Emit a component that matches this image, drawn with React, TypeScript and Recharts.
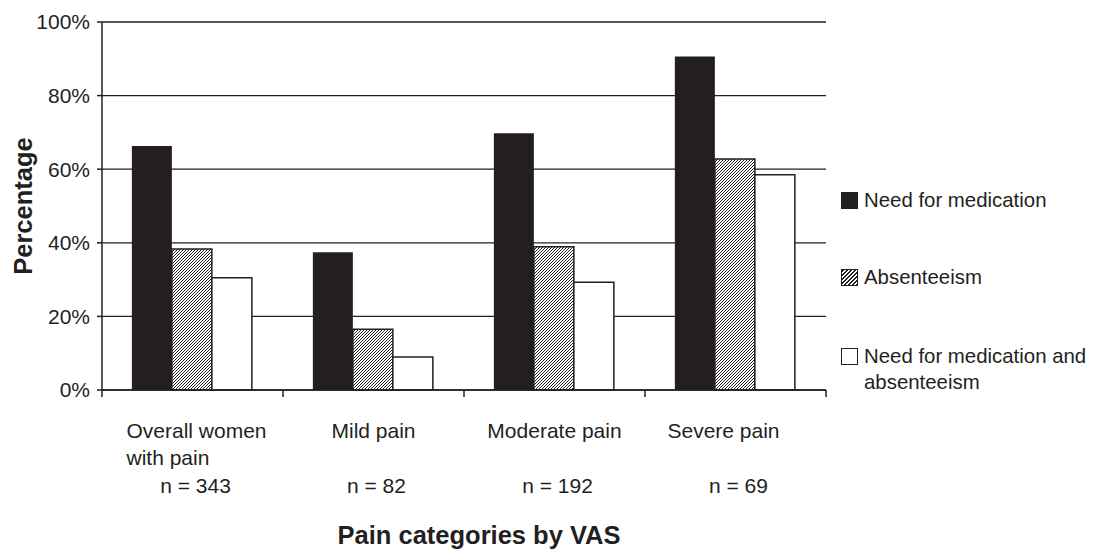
import React from 'react';
import { BarChart, Bar, XAxis, YAxis, CartesianGrid } from 'recharts';

const categories = ['Overall women with pain', 'Mild pain', 'Moderate pain', 'Severe pain'];
const categoryLines = [['Overall women', 'with pain'], ['Mild pain'], ['Moderate pain'], ['Severe pain']];
const nLabels = ['n = 343', 'n = 82', 'n = 192', 'n = 69'];
const needForMedication = [66.3, 37.4, 69.8, 90.6];
const absenteeism = [38.3, 16.5, 38.9, 62.8];
const needAndAbsenteeism = [30.5, 9.0, 29.3, 58.5];
const yTicks = [0, 20, 40, 60, 80, 100];

const seriesNames = ['Need for medication', 'Absenteeism', 'Need for medication and absenteeism'];

const data = categories.map((c, i) => ({
  category: c,
  need: needForMedication[i],
  absent: absenteeism[i],
  both: needAndAbsenteeism[i],
}));

const FONT = '"Liberation Sans", Arial, Helvetica, sans-serif';
const INK = '#231f20';

const XTick = (props: any) => {
  const { x, y, payload, index, width } = props;
  const band = (width || 724) / categories.length;
  const lines = categoryLines[index] || [String(payload.value)];
  const multi = lines.length > 1;
  const left = x - band / 2;
  const right = x + band / 2;
  const isLast = index === categories.length - 1;
  return (
    <g>
      <line x1={left} y1={y} x2={left} y2={y + 7} stroke={INK} strokeWidth={1.5} />
      {isLast && <line x1={right} y1={y} x2={right} y2={y + 7} stroke={INK} strokeWidth={1.5} />}
      {lines.map((l, k) => (
        <text
          key={k}
          x={multi ? x - 66 : isLast ? x - 12 : x}
          y={y + 48 + k * 27}
          textAnchor={multi ? 'start' : 'middle'}
          fontSize={21}
          fontFamily={FONT}
          fill={INK}
        >
          {l}
        </text>
      ))}
      <text x={x + 3} y={y + 103} textAnchor="middle" fontSize={21} fontFamily={FONT} fill={INK}>
        {nLabels[index]}
      </text>
    </g>
  );
};

const XTitle = (props: any) => {
  const vb = props.viewBox || { x: 94, y: 382, width: 724, height: 160 };
  return (
    <text
      x={vb.x + vb.width / 2 + 15}
      y={vb.y + vb.height - 6}
      textAnchor="middle"
      fontSize={25.5}
      fontWeight="bold"
      fontFamily={FONT}
      fill={INK}
    >
      Pain categories by VAS
    </text>
  );
};

const YTitle = (props: any) => {
  const vb = props.viewBox || { x: 0, y: 14, width: 94, height: 368 };
  const cy = vb.y + vb.height / 2;
  const bx = 24;
  return (
    <text
      x={bx}
      y={cy}
      transform={`rotate(-90, ${bx}, ${cy})`}
      textAnchor="middle"
      fontSize={25.5}
      fontWeight="bold"
      fontFamily={FONT}
      fill={INK}
    >
      Percentage
    </text>
  );
};

const swatchStyles: React.CSSProperties[] = [
  { background: INK, border: `1px solid ${INK}` },
  {
    border: `1px solid ${INK}`,
    backgroundColor: '#fff',
    backgroundImage: `repeating-linear-gradient(-45deg, ${INK} 0px, ${INK} 1.1px, #fff 1.1px, #fff 2.8px)`,
  },
  { background: '#fff', border: `1.5px solid ${INK}` },
];
const legendOffsets = [0, 77, 156];

const CustomLegend = () => (
  <div style={{ position: 'absolute', left: 833, top: 179, width: 250, height: 220, fontFamily: FONT }}>
    {seriesNames.map((name, i) => (
      <div
        key={name}
        style={{ position: 'absolute', top: legendOffsets[i], left: 0, display: 'flex', alignItems: 'flex-start' }}
      >
        <div
          style={{
            width: 17,
            height: 17,
            boxSizing: 'border-box',
            marginTop: 4.5,
            flex: '0 0 auto',
            ...swatchStyles[i],
          }}
        />
        <div style={{ marginLeft: 6, fontSize: 20.4, lineHeight: '26px', color: INK, width: 226 }}>{name}</div>
      </div>
    ))}
  </div>
);

export default function App() {
  return (
    <div style={{ position: 'relative', width: 1083, height: 542, fontFamily: FONT }}>
      <BarChart
        width={1083}
        height={542}
        data={data}
        margin={{ top: 14, right: 265, left: 0, bottom: 0 }}
        barCategoryGap="16.5%"
        barGap={0}
      >
        <defs>
          <pattern id="hatch" patternUnits="userSpaceOnUse" width="3" height="3">
            <rect width="3" height="3" fill="#fff" />
            <path d="M-0.75,0.75 L0.75,-0.75 M0,3 L3,0 M2.25,3.75 L3.75,2.25" stroke={INK} strokeWidth={1} />
          </pattern>
        </defs>
        <CartesianGrid vertical={false} stroke={INK} strokeWidth={1.3} />
        <XAxis
          dataKey="category"
          height={160}
          axisLine={{ stroke: INK, strokeWidth: 1.5 }}
          tickLine={false}
          tickSize={0}
          tickMargin={0}
          interval={0}
          tick={<XTick />}
          label={<XTitle />}
        />
        <YAxis
          width={94}
          domain={[0, 100]}
          ticks={yTicks}
          interval={0}
          tickFormatter={(v: number) => `${v}%`}
          axisLine={{ stroke: INK, strokeWidth: 1.5 }}
          tickLine={{ stroke: INK, strokeWidth: 1.5 }}
          tickSize={5}
          tickMargin={7}
          tick={{ fontSize: 21, fill: INK, fontFamily: FONT }}
          label={<YTitle />}
        />
        <Bar dataKey="need" name={seriesNames[0]} fill={INK} isAnimationActive={false} />
        <Bar dataKey="absent" name={seriesNames[1]} fill="url(#hatch)" stroke={INK} strokeWidth={1.5} isAnimationActive={false} />
        <Bar dataKey="both" name={seriesNames[2]} fill="#fff" stroke={INK} strokeWidth={1.5} isAnimationActive={false} />
      </BarChart>
      <CustomLegend />
    </div>
  );
}
